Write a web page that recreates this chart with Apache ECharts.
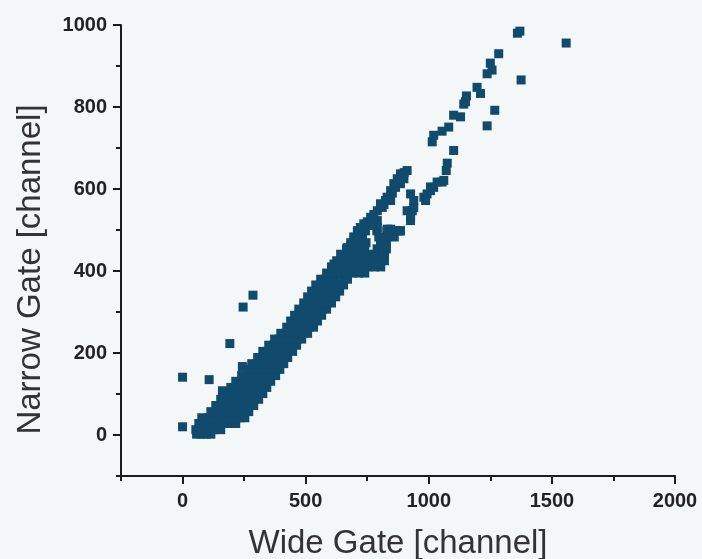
<!DOCTYPE html>
<html>
<head>
<meta charset="utf-8">
<script src="https://cdn.jsdelivr.net/npm/echarts@6/dist/echarts.min.js"></script>
<style>
  html, body { margin: 0; padding: 0; background: #f4f7f7; }
  #chart { width: 702px; height: 559px; }
</style>
</head>
<body>
<div id="chart"></div>
<script>
// Narrow-gate vs wide-gate channel pairs, [wide, narrow]
const lowerBand = [
  [57,2],[75,2],[95,2],[115,2],
  [54,13],[78,13],[102,13],[128,13],[155,13],
  [66,28],[92,28],[118,28],[144,28],[170,28],[196,28],[216,28],
  [78,42],[104,42],[130,42],[156,42],[182,42],[208,42],[232,42],[253,42],
  [115,57],[140,57],[166,57],[192,57],[218,57],[244,57],[269,57],
  [135,72],[161,72],[187,72],[213,72],[239,72],[264,72],[289,72],
  [155,87],[181,87],[207,87],[233,87],[258,87],[284,87],[309,87],
  [167,101],[193,101],[220,101],[247,101],[273,101],[300,101],[326,101],
  [196,116],[222,116],[248,116],[274,116],[300,116],[321,116],[342,116],
  [216,131],[240,131],[264,131],[288,131],[312,131],[336,131],[358,131],
  [240,145],[263,145],[286,145],[309,145],[332,145],[355,145],[378,145],
  [261,160],[283,160],[305,160],[328,160],[350,160],[372,160],[395,160],
  [281,174],[303,174],[325,174],[347,174],[368,174],[390,174],[411,174],
  [305,189],[326,189],[346,189],[366,189],[386,189],[406,189],[427,189],
  [326,204],[346,204],[366,204],[386,204],[406,204],[427,204],[447,204],
  [350,219],[370,219],[390,219],[410,219],[430,219],[447,219],[463,219],
  [374,234],[393,234],[412,234],[431,234],[450,234],[467,234],[484,234],
  [399,248],[418,248],[437,248],[456,248],[474,248],[491,248],[508,248],
  [423,263],[442,263],[461,263],[479,263],[497,263],[515,263],[532,263],
  [439,278],[458,278],[477,278],[495,278],[513,278],[531,278],[548,278],
  [455,292],[474,292],[493,292],[512,292],[530,292],[548,292],[565,292],
  [472,307],[492,307],[512,307],[531,307],[550,307],[568,307],[585,307],
  [492,322],[512,322],[532,322],[551,322],[570,322],[588,322],[605,322],
  [508,337],[528,337],[548,337],[567,337],[586,337],[604,337],[622,337],
  [524,351],[544,351],[564,351],[583,351],[602,351],[620,351],[638,351],
  [541,366],[561,366],[581,366],[600,366],[619,366],[637,366],[654,366],
  [561,380],[581,380],[600,380],[619,380],[654,380],[670,380],
  [585,395],[605,395],[625,395],[645,395],[665,395],[690,395],[715,395],[740,395]
];

// Where the band widens before splitting in two
const forkZone = [
  [605,410],[630,410],[655,410],[680,410],[705,410],[730,410],[755,410],[780,410],[805,410],
  [626,425],[650,425],[675,425],[700,425],[725,425],[750,425],[775,425],[800,425],[820,425],
  [646,439],[670,439],[695,439],[720,439],[745,439],[770,439],[795,439],[820,439],
  [666,454],[690,454],[715,454],[740,454],[790,454],[815,454],[828,454],
  [683,469],[715,469],[745,469],[804,469],[828,469],
  [696,483],[731,483],[797,483],[830,483],[860,483],
  [712,498],[743,498],[789,498],[830,498],[872,498],[885,498]
];

const upperBranch = [
  [615,417],[642,441],[669,457],[696,482],[710,498],[736,515],[764,531],
  [791,547],[804,564],[831,580],[845,596],[858,613],[872,625],[885,637],[912,645],
  [642,425],[662,437],[683,462],[710,474],[731,498],[755,511],[791,523],
  [811,555],[824,572],[845,572],[865,604],[885,613],[899,625],
  [722,506],[750,520],[777,538],[818,562],[852,590],[878,618],[900,640]
];

const sideBranch = [
  [736,417],[791,417],[750,433],[777,441],[818,449],[818,466],[804,482],
  [818,474],[791,506],[831,502],[845,502],[872,498],[885,498],
  [926,523],[926,531],[912,547],[933,547],[939,555],[926,588],
  [939,572],[980,580],[987,572],[993,588],[1007,596],[1007,605],[1020,604],
  [1034,617],[1054,617],[1061,621],[1071,645],[1075,663],[1101,694]
];

const tailPoints = [
  [1014,715],[1020,731],[1054,741],[1081,751],[1101,780],[1129,776],
  [1142,807],[1149,813],[1153,827],[1196,848],[1210,833],[1237,754],
  [1268,792],[1237,881],[1257,890],[1250,907],[1284,930],
  [1360,980],[1370,985],[1375,866],[1558,956]
];

const strayPoints = [
  [0,20],[0,141],[108,135],[162,108],[192,223],[243,167],[246,312],[286,341]
];

const xMajorTicks = [0, 500, 1000, 1500, 2000];
const xMinorTicks = [-250, 250, 750, 1250, 1750];
const yMajorTicks = [0, 200, 400, 600, 800, 1000];
const yMinorTicks = [-100, 100, 300, 500, 700, 900];

const allPoints = lowerBand.concat(forkZone, upperBranch, sideBranch, tailPoints, strayPoints);

const axisColor = '#1c1c1c';
const labelFont = {
  fontFamily: 'Liberation Sans, Arial, sans-serif', fontWeight: 'bold', fontSize: 20, color: '#222',
  formatter: function (v) { return String(v); }
};
const titleFont = { fontFamily: 'Liberation Sans, Arial, sans-serif', color: '#333' };

const chart = echarts.init(document.getElementById('chart'), null, { renderer: 'canvas' });
chart.setOption({
  backgroundColor: '#f4f7f7',
  animation: false,
  grid: { left: 121, right: 27, top: 25, bottom: 83, containLabel: false, outerBoundsMode: 'none' },
  xAxis: [
    {
      type: 'value', min: -250, max: 2000, position: 'bottom',
      name: 'Wide Gate [channel]', nameLocation: 'middle', nameGap: 51,
      nameTextStyle: Object.assign({ fontSize: 33 }, titleFont),
      axisLine: { show: true, onZero: false, lineStyle: { color: axisColor, width: 2 } },
      axisTick: { show: true, customValues: xMajorTicks, length: 8, lineStyle: { color: axisColor, width: 2 } },
      axisLabel: Object.assign({ customValues: xMajorTicks, margin: 15 }, labelFont),
      splitLine: { show: false }
    },
    {
      type: 'value', min: -250, max: 2000, position: 'bottom', offset: 0,
      axisLine: { show: false, onZero: false },
      axisTick: { show: true, customValues: xMinorTicks, length: 5, lineStyle: { color: axisColor, width: 2 } },
      axisLabel: { show: false },
      splitLine: { show: false }
    }
  ],
  yAxis: [
    {
      type: 'value', min: -100, max: 1000, position: 'left',
      name: 'Narrow Gate [channel]', nameLocation: 'middle', nameGap: 74,
      nameTextStyle: Object.assign({ fontSize: 33, padding: [0, 38, 0, 0] }, titleFont),
      axisLine: { show: true, onZero: false, lineStyle: { color: axisColor, width: 2 } },
      axisTick: { show: true, customValues: yMajorTicks, length: 8, lineStyle: { color: axisColor, width: 2 } },
      axisLabel: Object.assign({ customValues: yMajorTicks, margin: 14 }, labelFont),
      splitLine: { show: false }
    },
    {
      type: 'value', min: -100, max: 1000, position: 'left', offset: 0,
      axisLine: { show: false, onZero: false },
      axisTick: { show: true, customValues: yMinorTicks, length: 5, lineStyle: { color: axisColor, width: 2 } },
      axisLabel: { show: false },
      splitLine: { show: false }
    }
  ],
  series: [{
    type: 'scatter',
    xAxisIndex: 0, yAxisIndex: 0,
    symbol: 'rect',
    symbolSize: 9,
    itemStyle: { color: '#104a6c', opacity: 1 },
    data: allPoints
  }]
});
</script>
</body>
</html>
